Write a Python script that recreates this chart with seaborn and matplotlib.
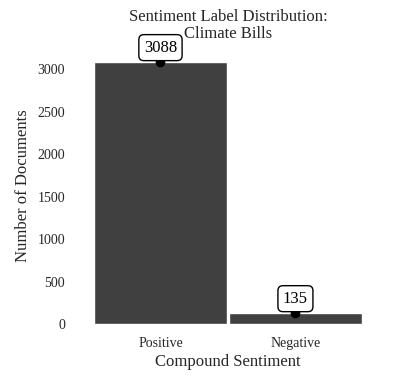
import matplotlib
matplotlib.use("Agg")
import matplotlib.pyplot as plt
import seaborn as sns
import pandas as pd

categories = ["Positive", "Negative"]
counts = [3088, 135]

sns.set_theme(style="white")
plt.rcParams['font.family'] = ['Liberation Serif', 'DejaVu Serif']

df = pd.DataFrame({"Compound Sentiment": categories, "Number of Documents": counts})

fig = plt.figure(figsize=(4.14, 3.79), dpi=100)
ax = fig.add_axes([0.2246, 0.145, 0.652, 0.729])
sns.barplot(data=df, x="Compound Sentiment", y="Number of Documents", color="#404040",
            saturation=1, width=0.985, ax=ax)
ax.set_xlim(-0.5, 1.5)
ax.set_ylim(0, 3250)
for i, v in enumerate(counts):
    ax.plot(i, v, 'o', color='black', markersize=6, zorder=3)
    ax.annotate(str(v), (i, v), xytext=(0, 10), textcoords='offset points',
                ha='center', va='center', fontsize=12, color='black', zorder=4,
                bbox=dict(boxstyle='round,pad=0.3', fc='white', ec='black', lw=1))
for s in ax.spines.values():
    s.set_visible(False)
ax.tick_params(axis='both', labelsize=10, length=0)
ax.tick_params(axis='y', pad=20)
ax.tick_params(axis='x', pad=9)
ax.set_xlabel("Compound Sentiment", fontsize=12, labelpad=3)
ax.set_ylabel("Number of Documents", fontsize=12, labelpad=5)
ax.set_title("Sentiment Label Distribution:\nClimate Bills", fontsize=12, linespacing=1.05, pad=7)
fig.savefig("out.png", dpi=100)
